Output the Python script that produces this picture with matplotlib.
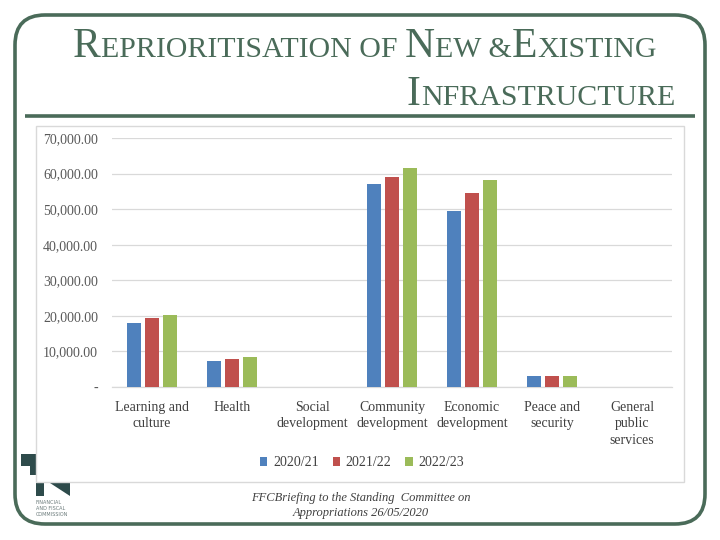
import matplotlib
matplotlib.use("Agg")
import matplotlib.pyplot as plt
import numpy as np
from matplotlib.patches import FancyBboxPatch, Rectangle, Polygon

categories = ["Learning and\nculture", "Health", "Social\ndevelopment", "Community\ndevelopment",
              "Economic\ndevelopment", "Peace and\nsecurity", "General\npublic\nservices"]
series_names = ["2020/21", "2021/22", "2022/23"]
v2020 = [18100, 7400, 0, 57200, 49500, 3100, 50]
v2021 = [19400, 8000, 0, 59000, 54600, 3100, 60]
v2022 = [20200, 8400, 0, 61700, 58200, 3100, 70]
yticks = [0, 10000, 20000, 30000, 40000, 50000, 60000, 70000]
ytick_labels = ["-", "10,000.00", "20,000.00", "30,000.00", "40,000.00", "50,000.00", "60,000.00", "70,000.00"]
colors = ["#4f81bd", "#c0504d", "#9bbb59"]

GREEN = "#4a6b59"
SERIF = "Liberation Serif"

fig = plt.figure(figsize=(7.2, 5.4), dpi=100)

# background/decoration axes in pixel coords
bg = fig.add_axes([0, 0, 1, 1], zorder=0)
bg.set_xlim(0, 720)
bg.set_ylim(540, 0)
bg.axis("off")

frame = FancyBboxPatch((15, 15), 690, 509, boxstyle="round,pad=0,rounding_size=30",
                       fill=False, edgecolor=GREEN, linewidth=2.6)
bg.add_patch(frame)
bg.plot([25, 695], [116, 116], color=GREEN, linewidth=2.6, solid_capstyle="butt")

# logo
LOGO = "#2e4b4b"
bg.add_patch(Rectangle((21, 454), 15, 12, color=LOGO, lw=0))
bg.add_patch(Rectangle((30, 454), 6, 21, color=LOGO, lw=0))
bg.add_patch(Rectangle((36, 483), 8, 13, color=LOGO, lw=0))
bg.add_patch(Polygon([(50, 483), (70, 483), (70, 496)], color=LOGO, lw=0))
for i, t in enumerate(["FINANCIAL", "AND FISCAL", "COMMISSION"]):
    bg.text(36, 503 + 6 * i, t, fontsize=3.5, family="DejaVu Sans", color="#6a7a7a", va="center", ha="left")

# chart area box
bg.add_patch(Rectangle((36, 126), 648, 356, facecolor="white", edgecolor="#d9d9d9", lw=1.0, zorder=3))

# footer
bg.text(361, 498, "FFCBriefing to the Standing  Committee on", fontsize=9, style="italic",
        family=SERIF, color="#404040", ha="center", va="center")
bg.text(361, 513, "Appropriations 26/05/2020", fontsize=9, style="italic",
        family=SERIF, color="#404040", ha="center", va="center")

# small-caps title
fig.canvas.draw()
renderer = fig.canvas.get_renderer()
BIG, SMALL = 30, 21.5

def smallcaps(segments, x, y, align):
    texts = []
    cx = 0
    for s, size in segments:
        t = bg.text(cx, y, s, fontsize=size, family=SERIF, color=GREEN, ha="left", va="baseline")
        bb = t.get_window_extent(renderer)
        texts.append((t, bb.width))
        cx += bb.width
    total = cx
    start = x - total / 2 if align == "center" else x - total
    cx = start
    for t, w in texts:
        t.set_x(cx)
        cx += w

smallcaps([("R", BIG), ("EPRIORITISATION OF ", SMALL), ("N", BIG), ("EW &", SMALL),
           ("E", BIG), ("XISTING", SMALL)], 365, 57, "center")
smallcaps([("I", BIG), ("NFRASTRUCTURE", SMALL)], 675, 105, "right")

# main chart
ax = fig.add_axes([112 / 720, 1 - 387 / 540, 560 / 720, 249 / 540], zorder=5)
ax.patch.set_alpha(0)
x = np.arange(len(categories))
w = 0.165
off = 0.225
for i, (vals, name) in enumerate(zip([v2020, v2021, v2022], series_names)):
    ax.bar(x + (i - 1) * off, vals, width=w, color=colors[i], label=name, zorder=3)

ax.set_xlim(-0.5, len(categories) - 0.5)
ax.set_ylim(0, 70000)
ax.set_yticks(yticks)
ax.set_yticklabels(ytick_labels, family=SERIF, fontsize=10, color="#595959")
ax.set_xticks(x)
ax.set_xticklabels(categories, family=SERIF, fontsize=10, color="#404040", linespacing=1.35)
ax.tick_params(axis="y", length=0, pad=10)
ax.tick_params(axis="x", length=0, pad=10)
ax.grid(axis="y", color="#d9d9d9", linewidth=0.9, zorder=0)
for s in ["top", "right", "left"]:
    ax.spines[s].set_visible(False)
ax.spines["bottom"].set_color("#d9d9d9")
ax.spines["bottom"].set_linewidth(0.9)

leg = fig.legend(loc="center", bbox_to_anchor=(362 / 720, 1 - 463 / 540), ncol=3, frameon=False,
                 prop={"family": SERIF, "size": 10}, handlelength=0.55, handleheight=0.55,
                 handletextpad=0.4, columnspacing=1.0)
for t in leg.get_texts():
    t.set_color("#404040")

fig.savefig("out.png", dpi=100)
